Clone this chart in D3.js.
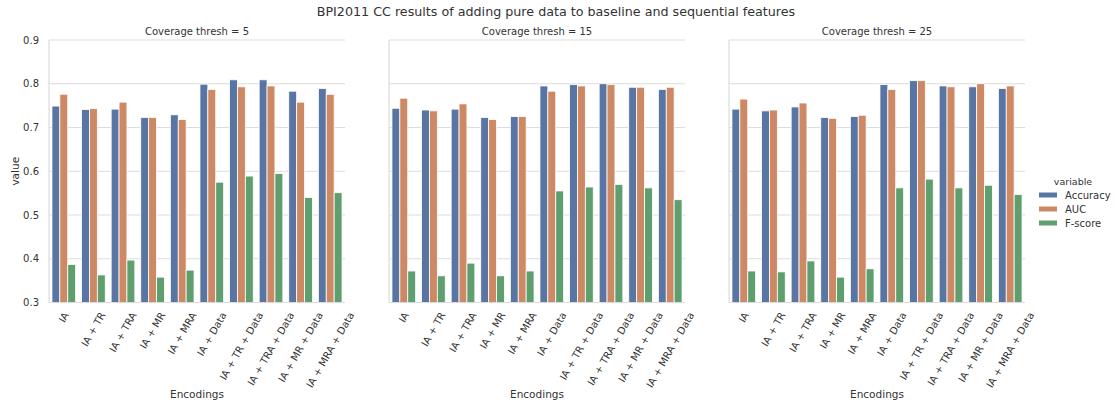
<!DOCTYPE html>
<html><head><meta charset="utf-8">
<script src="https://cdn.jsdelivr.net/npm/d3@7"></script>
<style>body{margin:0;background:#fff}svg{display:block;font-family:"DejaVu Sans",sans-serif}</style>
</head><body><svg id="c" width="1115" height="409"></svg>
<script>
const categories = ["IA","IA + TR","IA + TRA","IA + MR","IA + MRA","IA + Data","IA + TR + Data","IA + TRA + Data","IA + MR + Data","IA + MRA + Data"];
const variables = ["Accuracy","AUC","F-score"];
const thresholds = [5, 15, 25];
const yTicks = [0.3,0.4,0.5,0.6,0.7,0.8,0.9];
// thresh = 5
const acc5 = [0.749,0.741,0.742,0.723,0.729,0.799,0.809,0.809,0.783,0.789];
const auc5 = [0.776,0.743,0.758,0.723,0.718,0.787,0.793,0.795,0.758,0.776];
const f5   = [0.387,0.363,0.397,0.358,0.374,0.575,0.589,0.595,0.540,0.551];
// thresh = 15
const acc15 = [0.744,0.740,0.742,0.723,0.725,0.795,0.798,0.800,0.792,0.787];
const auc15 = [0.767,0.738,0.754,0.718,0.725,0.783,0.795,0.798,0.792,0.792];
const f15   = [0.372,0.361,0.390,0.361,0.372,0.555,0.564,0.570,0.562,0.535];
// thresh = 25
const acc25 = [0.742,0.738,0.747,0.723,0.725,0.798,0.807,0.795,0.793,0.789];
const auc25 = [0.765,0.740,0.756,0.721,0.728,0.787,0.807,0.793,0.800,0.795];
const f25   = [0.372,0.370,0.395,0.358,0.377,0.562,0.582,0.562,0.568,0.547];

(function(){
const panels = [[acc5,auc5,f5],[acc15,auc15,f15],[acc25,auc25,f25]];
const colors = ["#5975a4","#cc8963","#5f9e6e"];
const textColor = "#333";
const gridColor = "#dcdcdc";

const svg = d3.select("#c");
const panelX = [49, 389, 729], panelW = 296;
const yTop = 40, yBot = 302.5;
const y = d3.scaleLinear().domain([0.3,0.9]).range([yBot, yTop]);
const color = d3.scaleOrdinal().domain(variables).range(colors);

svg.append("text").attr("x",556).attr("y",16).attr("text-anchor","middle")
  .attr("font-size",12.7).attr("fill",textColor)
  .text("BPI2011 CC results of adding pure data to baseline and sequential features");

panels.forEach((series, pi) => {
  const g = svg.append("g").attr("transform",`translate(${panelX[pi]},0)`);
  const x = d3.scaleBand().domain(categories).range([0,panelW]).paddingInner(0.2).paddingOuter(0.1);
  const xs = d3.scaleBand().domain(variables).range([0,x.bandwidth()]);
  g.append("g").selectAll("line").data(yTicks).join("line")
    .attr("x1",0).attr("x2",panelW).attr("y1",d=>y(d)).attr("y2",d=>y(d))
    .attr("stroke",gridColor).attr("stroke-width",1);
  g.append("line").attr("x1",0).attr("x2",0).attr("y1",yTop).attr("y2",yBot)
    .attr("stroke",gridColor).attr("stroke-width",1.2);
  if (pi === 0) {
    const ya = d3.axisLeft(y).tickValues(yTicks).tickFormat(d3.format(".1f")).tickSize(0).tickPadding(10);
    const ag = g.append("g").call(ya);
    ag.select(".domain").remove();
    ag.selectAll("text").attr("font-size",10).attr("fill",textColor).attr("font-family","DejaVu Sans");
    g.append("text").attr("transform",`translate(-30,${(yTop+yBot)/2}) rotate(-90)`)
      .attr("text-anchor","middle").attr("font-size",10.5).attr("fill",textColor).text("value");
  }
  const data = [];
  categories.forEach((c,ci)=>variables.forEach((v,vi)=>data.push({c,v,val:series[vi][ci]})));
  g.append("g").selectAll("rect").data(data).join("rect")
    .attr("x",d=>x(d.c)+xs(d.v)).attr("width",xs.bandwidth())
    .attr("y",d=>y(d.val)).attr("height",d=>y(0.3)-y(d.val))
    .attr("fill",d=>color(d.v)).attr("stroke","#fff").attr("stroke-width",0.8);
  g.append("line").attr("x1",0).attr("x2",panelW).attr("y1",yBot).attr("y2",yBot)
    .attr("stroke",gridColor).attr("stroke-width",1);
  const cos60 = 0.5, fs = 10;
  categories.forEach(c=>{
    const cx = x(c)+x.bandwidth()/2;
    const t = g.append("text").attr("font-size",fs).attr("fill",textColor)
      .attr("text-anchor","end").attr("dominant-baseline","central").text(c);
    const L = t.node().getComputedTextLength();
    const ax = cx + L*cos60/2, ay = yBot + 8 + fs/4;
    t.attr("transform",`translate(${ax},${ay}) rotate(-60)`);
  });
  g.append("text").attr("x",panelW/2).attr("y",398).attr("text-anchor","middle")
    .attr("font-size",10.5).attr("fill",textColor).text("Encodings");
  g.append("text").attr("x",panelW/2).attr("y",35).attr("text-anchor","middle")
    .attr("font-size",10).attr("fill",textColor).text(`Coverage thresh = ${thresholds[pi]}`);
});

const lg = svg.append("g");
lg.append("text").attr("x",1073).attr("y",185).attr("text-anchor","middle")
  .attr("font-size",9.5).attr("fill",textColor).text("variable");
variables.forEach((v,i)=>{
  const yy = 195 + i*14;
  lg.append("rect").attr("x",1039).attr("y",yy-2.5).attr("width",18).attr("height",5).attr("fill",color(v));
  lg.append("text").attr("x",1065).attr("y",yy).attr("dominant-baseline","central")
    .attr("font-size",10).attr("fill",textColor).text(v);
});
})();
</script></body></html>
